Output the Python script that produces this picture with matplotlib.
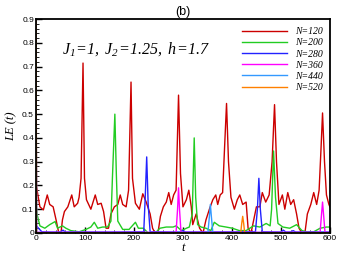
import numpy as np
import matplotlib
matplotlib.use('Agg')
import matplotlib.pyplot as plt
from matplotlib.ticker import MultipleLocator, AutoMinorLocator, FuncFormatter

plt.rcParams['mathtext.fontset'] = 'custom'
plt.rcParams['mathtext.it'] = 'Liberation Serif:italic'
plt.rcParams['mathtext.rm'] = 'Liberation Serif:italic'

# N=120 (red)
t_120 = [0, 1, 8, 15, 23, 28, 35, 41, 46, 51, 54, 58, 65, 73, 78, 85, 88, 92, 96, 99, 103,
         112, 121, 126, 133, 138, 143, 148, 153, 160, 167, 172, 177, 184, 189, 194, 197, 203,
         211, 218, 225, 233, 238, 243, 249, 254, 260, 266, 271, 276, 281, 286, 291, 295, 300,
         307, 312, 317, 320, 327, 334, 341, 347, 354, 361, 367, 371, 376, 381, 385, 389, 393,
         398, 405, 411, 416, 422, 429, 433, 439, 446, 450, 457, 462, 469, 476, 482, 487, 491,
         496, 503, 508, 514, 520, 526, 532, 537, 543, 549, 554, 561, 567, 573, 578, 582, 585,
         589, 593, 598, 600]
le_120 = [1.0, 0.195, 0.11, 0.097, 0.16, 0.12, 0.11, 0.055, 0.005, 0.0, 0.055, 0.09, 0.11, 0.16,
          0.11, 0.125, 0.15, 0.23, 0.715, 0.23, 0.14, 0.10, 0.16, 0.12, 0.125, 0.09, 0.02, 0.02,
          0.08, 0.11, 0.12, 0.16, 0.12, 0.11, 0.18, 0.635, 0.23, 0.125, 0.10, 0.165, 0.13, 0.08,
          0.02, 0.0, 0.0, 0.07, 0.11, 0.13, 0.17, 0.12, 0.16, 0.18, 0.58, 0.25, 0.11, 0.14, 0.18,
          0.11, 0.035, 0.08, 0.02, 0.0, 0.055, 0.10, 0.14, 0.16, 0.12, 0.16, 0.17, 0.36, 0.545,
          0.30, 0.15, 0.10, 0.14, 0.16, 0.12, 0.13, 0.02, 0.0, 0.07, 0.11, 0.11, 0.17, 0.13, 0.16,
          0.30, 0.54, 0.30, 0.12, 0.16, 0.10, 0.17, 0.12, 0.14, 0.08, 0.02, 0.0, 0.0, 0.08, 0.12,
          0.17, 0.12, 0.18, 0.36, 0.505, 0.30, 0.16, 0.12, 0.11]

# N=200 (green)
t_200 = [0, 1, 2, 8, 18, 28, 39, 44, 54, 61, 71, 88, 102, 112, 119, 126, 136, 146, 153, 156,
         161, 164, 167, 177, 190, 203, 209, 219, 229, 236, 246, 253, 266, 280, 286, 297, 307,
         313, 319, 323, 326, 330, 337, 347, 357, 364, 374, 388, 401, 415, 429, 444, 457, 470,
         478, 481, 485, 489, 494, 504, 518, 532, 543, 553, 567, 580, 593, 600]
le_200 = [1.0, 0.11, 0.08, 0.03, 0.02, 0.035, 0.048, 0.02, 0.03, 0.02, 0.01, 0.005, 0.015, 0.025,
          0.045, 0.02, 0.025, 0.025, 0.05, 0.23, 0.50, 0.25, 0.05, 0.015, 0.015, 0.045, 0.02,
          0.02, 0.0, 0.0, 0.005, 0.02, 0.025, 0.025, 0.03, 0.01, 0.02, 0.025, 0.08, 0.40, 0.15,
          0.035, 0.025, 0.02, 0.01, 0.045, 0.03, 0.025, 0.02, 0.01, 0.01, 0.03, 0.025, 0.04,
          0.03, 0.10, 0.345, 0.15, 0.04, 0.025, 0.02, 0.035, 0.01, 0.005, 0.005, 0.02, 0.025, 0.025]

# N=280 (blue)
t_280 = [0, 1, 5, 12, 30, 50, 55, 60, 150, 220, 223, 226, 229, 233, 295, 300, 305, 448, 452,
         455, 458, 462, 500, 505, 510, 520, 525, 530, 600]
le_280 = [1.0, 0.03, 0.02, 0.005, 0.004, 0.004, 0.012, 0.004, 0.004, 0.005, 0.15, 0.32, 0.12,
          0.005, 0.004, 0.01, 0.004, 0.005, 0.10, 0.23, 0.10, 0.005, 0.004, 0.012, 0.004, 0.004,
          0.01, 0.004, 0.004]

# N=360 (magenta)
t_360 = [0, 1, 286, 289, 291, 293, 296, 580, 583, 585, 587, 590, 600]
le_360 = [1.0, 0.003, 0.003, 0.10, 0.19, 0.10, 0.003, 0.003, 0.08, 0.13, 0.08, 0.003, 0.003]

# N=440 (light blue)
t_440 = [0, 1, 351, 354, 356, 358, 361, 600]
le_440 = [1.0, 0.002, 0.002, 0.07, 0.12, 0.07, 0.002, 0.002]

# N=520 (orange)
t_520 = [0, 1, 418, 420, 422, 424, 426, 600]
le_520 = [1.0, 0.001, 0.001, 0.04, 0.07, 0.04, 0.001, 0.001]

series = [
    ('N=120', t_120, le_120, '#cc0000'),
    ('N=200', t_200, le_200, '#22cc22'),
    ('N=280', t_280, le_280, '#2222ff'),
    ('N=360', t_360, le_360, '#ff00ff'),
    ('N=440', t_440, le_440, '#3399ff'),
    ('N=520', t_520, le_520, '#ff8000'),
]

fig = plt.figure(figsize=(3.38, 2.58), dpi=100)
ax = fig.add_axes([0.1065, 0.097, 0.8695, 0.829])

for label, t, le, c in series:
    ax.plot(t, le, color=c, lw=1.0, label=label)

ax.set_xlim(0, 600)
ax.set_ylim(0, 0.9)
ax.xaxis.set_major_locator(MultipleLocator(100))
ax.yaxis.set_major_locator(MultipleLocator(0.1))
ax.xaxis.set_minor_locator(AutoMinorLocator(5))
ax.yaxis.set_minor_locator(AutoMinorLocator(5))
ax.yaxis.set_major_formatter(FuncFormatter(lambda v, p: '0' if abs(v) < 1e-9 else '%.1f' % v))
ax.tick_params(which='both', direction='in', top=False, right=False, labelsize=6, pad=1.5)
ax.tick_params(which='major', length=4, width=1)
ax.tick_params(which='minor', length=2, width=0.6)
for lab in ax.get_xticklabels() + ax.get_yticklabels():
    lab.set_family('Liberation Sans')
for s in ax.spines.values():
    s.set_linewidth(1.3)

ax.set_xlabel('t', fontsize=9, family='Liberation Serif', style='italic', labelpad=0)
ax.set_ylabel('LE (t)', fontsize=9, family='Liberation Serif', style='italic', labelpad=3)
ax.set_title('(b)', fontsize=9, family='Liberation Sans', pad=3)

ax.text(0.09, 0.84, r'$J_1\!=\!1,\ J_2\!=\!1.25,\ h\!=\!1.7$', transform=ax.transAxes,
        fontsize=11.5)

leg = ax.legend(loc='upper right', bbox_to_anchor=(0.99, 0.98), frameon=False,
                prop={'family': 'Liberation Serif', 'style': 'italic', 'size': 7},
                handlelength=4.6, handletextpad=0.9, labelspacing=0.22, borderaxespad=0)

fig.savefig('out.png', dpi=100)
